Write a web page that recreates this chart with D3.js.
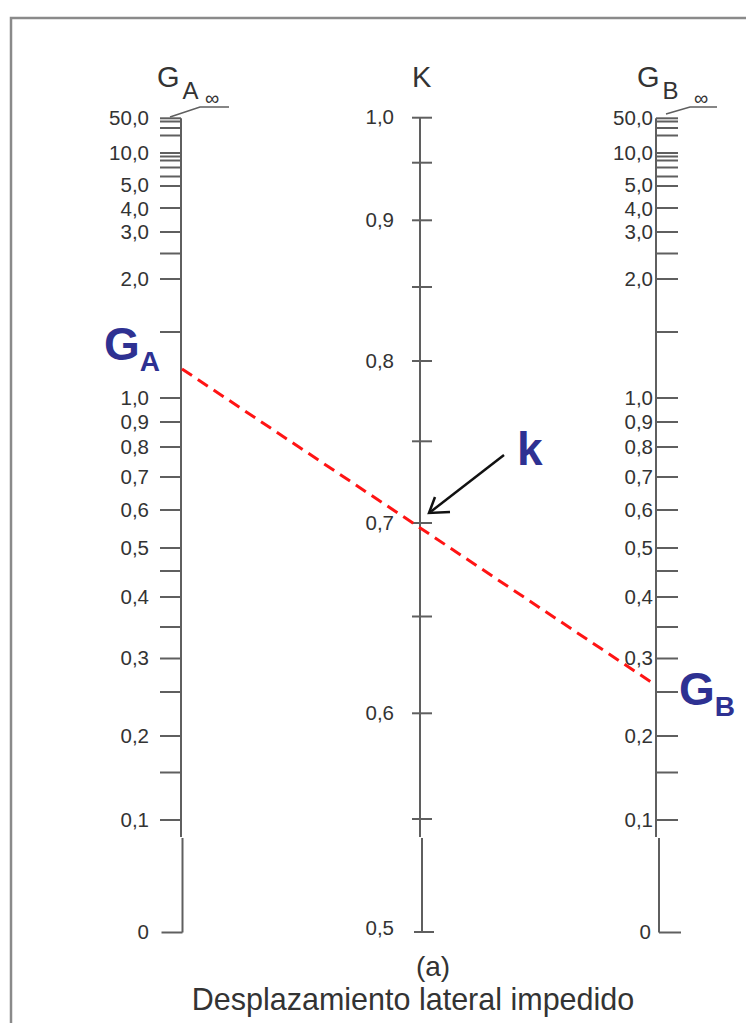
<!DOCTYPE html>
<html>
<head>
<meta charset="utf-8">
<script src="https://cdn.jsdelivr.net/npm/d3@7"></script>
<style>
  html, body { margin: 0; padding: 0; background: #ffffff; }
  svg { display: block; }
  text { font-family: "Liberation Sans", Arial, Helvetica, sans-serif; }
</style>
</head>
<body>
<svg id="chart" width="746" height="1023"></svg>
<script>
// ---- Nomograph data -------------------------------------------------------
// G scale (same graduation on both outer columns)
const gTickValues = [0, 0.1, 0.15, 0.2, 0.25, 0.3, 0.35, 0.4, 0.45, 0.5, 0.6, 0.7, 0.8, 0.9,
                     1.0, 1.5, 2.0, 2.5, 3.0, 4.0, 5.0, 6.0, 7.0, 8.0, 9.0, 10.0, 20.0, 30.0, 40.0, 50.0];
const gLabelValues = [0, 0.1, 0.2, 0.3, 0.4, 0.5, 0.6, 0.7, 0.8, 0.9, 1.0, 2.0, 3.0, 4.0, 5.0, 10.0, 50.0];
// K scale (centre column)
const kTickValues = [0.5, 0.55, 0.6, 0.65, 0.7, 0.75, 0.8, 0.85, 0.9, 0.95, 1.0];
const kLabelValues = [0.5, 0.6, 0.7, 0.8, 0.9, 1.0];
// Worked example: end stiffness ratios and resulting factor
const exampleGA = 1.22;
const exampleGB = 0.26;
const exampleK = 0.7;
// Text
const titleCaption = "(a)";
const titleText = "Desplazamiento lateral impedido";

// ---- Scales ---------------------------------------------------------------
// The alignment-chart graduations are non-uniform, so each column uses a
// piecewise-linear scale through its calibration marks.
const gScale = d3.scaleLinear()
  .domain([0, 0.1, 0.15, 0.2, 0.25, 0.3, 0.35, 0.4, 0.45, 0.5, 0.6, 0.7, 0.8, 0.9,
           1.0, 1.5, 2.0, 2.5, 3.0, 4.0, 5.0, 6.0, 7.0, 8.0, 9.0, 10.0, 20.0, 30.0, 40.0, 50.0])
  .range([932.5, 820, 772.5, 736, 692, 658.5, 627, 597, 571, 548, 510, 477, 447, 422,
          398, 332, 279, 253.5, 232, 208, 186, 176.5, 167.5, 160.5, 156.5, 153, 135.5, 128, 121.5, 118.3]);

const kScale = d3.scaleLinear()
  .domain([0.5, 0.55, 0.6, 0.65, 0.7, 0.75, 0.8, 0.85, 0.9, 0.95, 1.0])
  .range([932, 819, 713.3, 616.5, 523, 441.3, 361, 287, 220.3, 162.7, 117.7]);

const fmt = v => v === 0 ? "0" : d3.format(".1f")(v).replace(".", ",");

// Column positions
const xA = 181, xK = 420, xB = 656;
const splitY = 837;          // the lower part of each column is offset slightly
const axisColor = "#5f5f5f";
const textColor = "#333333";
const blue = "#2e3192";
const labelSize = 20.5;

// small vertical nudges so that the crowded upper labels do not collide
const labelNudge = v => v === 5 ? -2 : v === 4 ? 0.5 : -1;

const svg = d3.select("#chart");

// Frame
svg.append("path")
  .attr("d", "M11,1023 L11,18 L746,18")
  .attr("fill", "none")
  .attr("stroke", "#8a8a8a")
  .attr("stroke-width", 2.5);

// ---- Column drawing helper -------------------------------------------------
function drawColumn(x, scale, tickValues, tickX1, tickX2, lowerShift) {
  const g = svg.append("g");
  const top = scale.range()[scale.range().length - 1];
  const bottom = scale.range()[0];
  // main stem, split into two pieces
  g.append("line")
    .attr("x1", x).attr("x2", x)
    .attr("y1", top).attr("y2", splitY)
    .attr("stroke", axisColor).attr("stroke-width", 2);
  g.append("line")
    .attr("x1", x + lowerShift).attr("x2", x + lowerShift)
    .attr("y1", splitY + 1).attr("y2", bottom)
    .attr("stroke", axisColor).attr("stroke-width", 2);
  g.selectAll("line.tick")
    .data(tickValues)
    .join("line")
    .attr("class", "tick")
    .attr("x1", d => x + tickX1 + (scale(d) > splitY ? lowerShift : 0))
    .attr("x2", d => x + tickX2 + (scale(d) > splitY ? lowerShift : 0))
    .attr("y1", d => scale(d))
    .attr("y2", d => scale(d))
    .attr("stroke", axisColor)
    .attr("stroke-width", 2);
  return g;
}

// Left column: G_A
drawColumn(xA, gScale, gTickValues, -21, 0, 1.5);
svg.append("g").selectAll("text")
  .data(gLabelValues)
  .join("text")
  .attr("x", 149)
  .attr("y", d => gScale(d) + labelNudge(d))
  .attr("text-anchor", "end")
  .attr("dominant-baseline", "central")
  .attr("font-size", labelSize)
  .attr("fill", textColor)
  .text(fmt);

// Right column: G_B
drawColumn(xB, gScale, gTickValues, 0, 22, 3);
svg.append("g").selectAll("text")
  .data(gLabelValues)
  .join("text")
  .attr("x", d => d === 0 ? 651 : 653)
  .attr("y", d => gScale(d) + labelNudge(d))
  .attr("text-anchor", "end")
  .attr("dominant-baseline", "central")
  .attr("font-size", labelSize)
  .attr("fill", textColor)
  .text(fmt);

// Centre column: K
drawColumn(xK, kScale, kTickValues, -8, 12, 2);
svg.append("g").selectAll("text")
  .data(kLabelValues)
  .join("text")
  .attr("x", 394)
  .attr("y", d => kScale(d) - (d === 0.5 ? 5 : 1))
  .attr("text-anchor", "end")
  .attr("dominant-baseline", "central")
  .attr("font-size", labelSize)
  .attr("fill", textColor)
  .text(fmt);

// Column headings with the infinity leaders
function heading(x, main, sub, leader, infX) {
  const t = svg.append("text")
    .attr("x", x).attr("y", 87)
    .attr("font-size", 29)
    .attr("fill", textColor);
  t.append("tspan").text(main);
  if (sub) {
    t.append("tspan").attr("dx", 3).attr("dy", 12).attr("font-size", 24).text(sub);
  }
  if (leader) {
    svg.append("path")
      .attr("d", leader)
      .attr("fill", "none")
      .attr("stroke", axisColor)
      .attr("stroke-width", 1.5);
    svg.append("text")
      .attr("x", infX).attr("y", 105)
      .attr("font-size", 20)
      .attr("fill", textColor)
      .text("∞");
  }
}
heading(157, "G", "A", "M170,117 L200,107 L229,107", 205);
heading(637, "G", "B", "M666,114 L690,107 L717,107", 694);
heading(412, "K", null, null, 0);

// ---- Worked example ----------------------------------------------------------
const yA = gScale(exampleGA), yB = gScale(exampleGB);
svg.append("line")
  .attr("x1", xA + 1).attr("y1", yA)
  .attr("x2", xB).attr("y2", yB)
  .attr("stroke", "#ff1414")
  .attr("stroke-width", 3)
  .attr("stroke-dasharray", "12 7");

// Arrow pointing at the resulting K
const tipX = xK + 9, tipY = kScale(exampleK) - 10;
const tailX = tipX + 75, tailY = tipY - 58;
svg.append("line")
  .attr("x1", tailX).attr("y1", tailY)
  .attr("x2", tipX + 2).attr("y2", tipY - 1.5)
  .attr("stroke", "#111").attr("stroke-width", 2.5);
svg.append("path")
  .attr("d", `M${tipX + 6},${tipY - 16} L${tipX},${tipY} L${tipX + 21},${tipY - 1}`)
  .attr("fill", "none")
  .attr("stroke", "#111")
  .attr("stroke-width", 2.5)
  .attr("stroke-linejoin", "miter");

// Blue callouts
function callout(x, y, main, sub) {
  const t = svg.append("text")
    .attr("x", x).attr("y", y)
    .attr("font-weight", "bold")
    .attr("font-size", 46)
    .attr("fill", blue);
  t.append("tspan").text(main);
  if (sub) t.append("tspan").attr("dy", 11).attr("font-size", 28).text(sub);
}
callout(104, 360, "G", "A");
callout(679, 705, "G", "B");
callout(517, 465, "k", null);

// ---- Captions ----------------------------------------------------------------
svg.append("text")
  .attr("x", 433).attr("y", 976)
  .attr("text-anchor", "middle")
  .attr("font-size", 28)
  .attr("fill", textColor)
  .text(titleCaption);
svg.append("text")
  .attr("x", 413).attr("y", 1010)
  .attr("text-anchor", "middle")
  .attr("font-size", 30.5)
  .attr("fill", textColor)
  .text(titleText);
</script>
</body>
</html>
